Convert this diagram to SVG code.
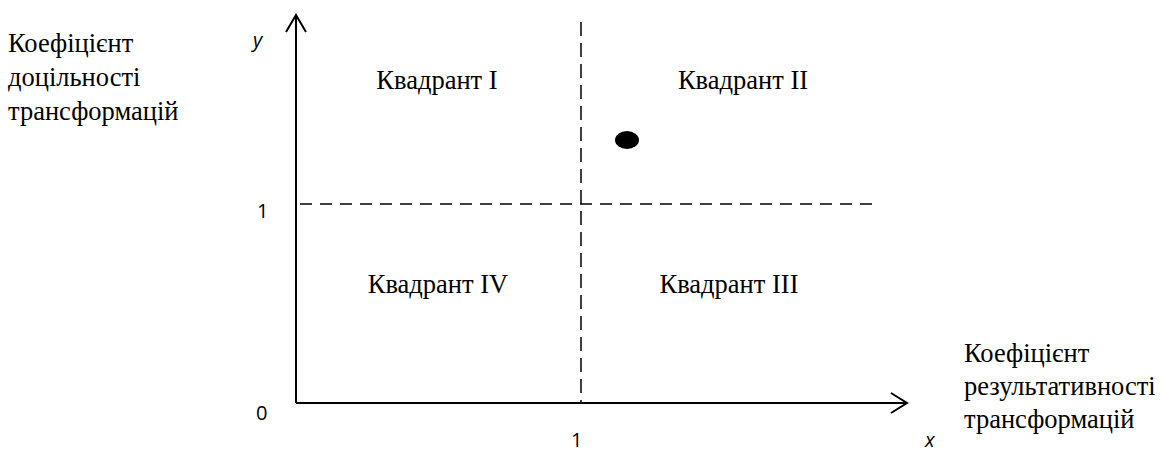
<svg xmlns="http://www.w3.org/2000/svg" width="1164" height="452" viewBox="0 0 1164 452">
<style>
.axis{stroke:#000;stroke-width:2;fill:none}
.dash{stroke:#000;stroke-width:1.5;fill:none}
.arr{stroke:#000;stroke-width:2;fill:none}
.q{font-family:"Liberation Serif","DejaVu Serif",serif;font-size:26.5px;fill:#000;text-anchor:middle}
.lab{font-family:"Liberation Serif","DejaVu Serif",serif;font-size:26.5px;fill:#000}
.num{font-family:"Open Sans","Liberation Sans",sans-serif;font-size:20px;fill:#000}
.var{font-family:"Open Sans","Liberation Sans",sans-serif;font-size:20px;font-style:italic;fill:#000}
</style>
<rect width="1164" height="452" fill="#fff"/>
<g id="connectors">
<line class="axis" x1="296" y1="403" x2="296" y2="16"/>
<polyline class="arr" points="286,32 296,15 306,32"/>
<line class="axis" x1="296" y1="403" x2="906" y2="403"/>
<polyline class="arr" points="891,393 907,403 891,413"/>
<line class="dash" x1="581" y1="22" x2="581" y2="403" stroke-dasharray="14 7"/>
<line class="dash" x1="300" y1="204" x2="876" y2="204" stroke-dasharray="12 8"/>
</g>
<g id="quadrant-1"><text class="q" x="437" y="89">Квадрант I</text></g>
<g id="quadrant-2"><text class="q" x="743" y="89">Квадрант II</text></g>
<g id="quadrant-4"><text class="q" x="438" y="293">Квадрант IV</text></g>
<g id="quadrant-3"><text class="q" x="729" y="293">Квадрант III</text></g>
<g id="point"><ellipse cx="627" cy="140" rx="12" ry="9" fill="#000"/></g>
<g id="y-label">
<text class="lab" x="8" y="52">Коефіцієнт</text>
<text class="lab" x="8" y="86">доцільності</text>
<text class="lab" x="8" y="120">трансформацій</text>
</g>
<g id="x-label">
<text class="lab" x="964" y="362">Коефіцієнт</text>
<text class="lab" x="964" y="395">результативності</text>
<text class="lab" x="964" y="428">трансформацій</text>
</g>
<g id="ticks">
<text class="var" x="253" y="47">y</text>
<text class="num" x="257" y="218">1</text>
<text class="num" x="256" y="420">0</text>
<text class="num" x="571" y="447">1</text>
<text class="var" x="925" y="447">x</text>
</g>
</svg>
